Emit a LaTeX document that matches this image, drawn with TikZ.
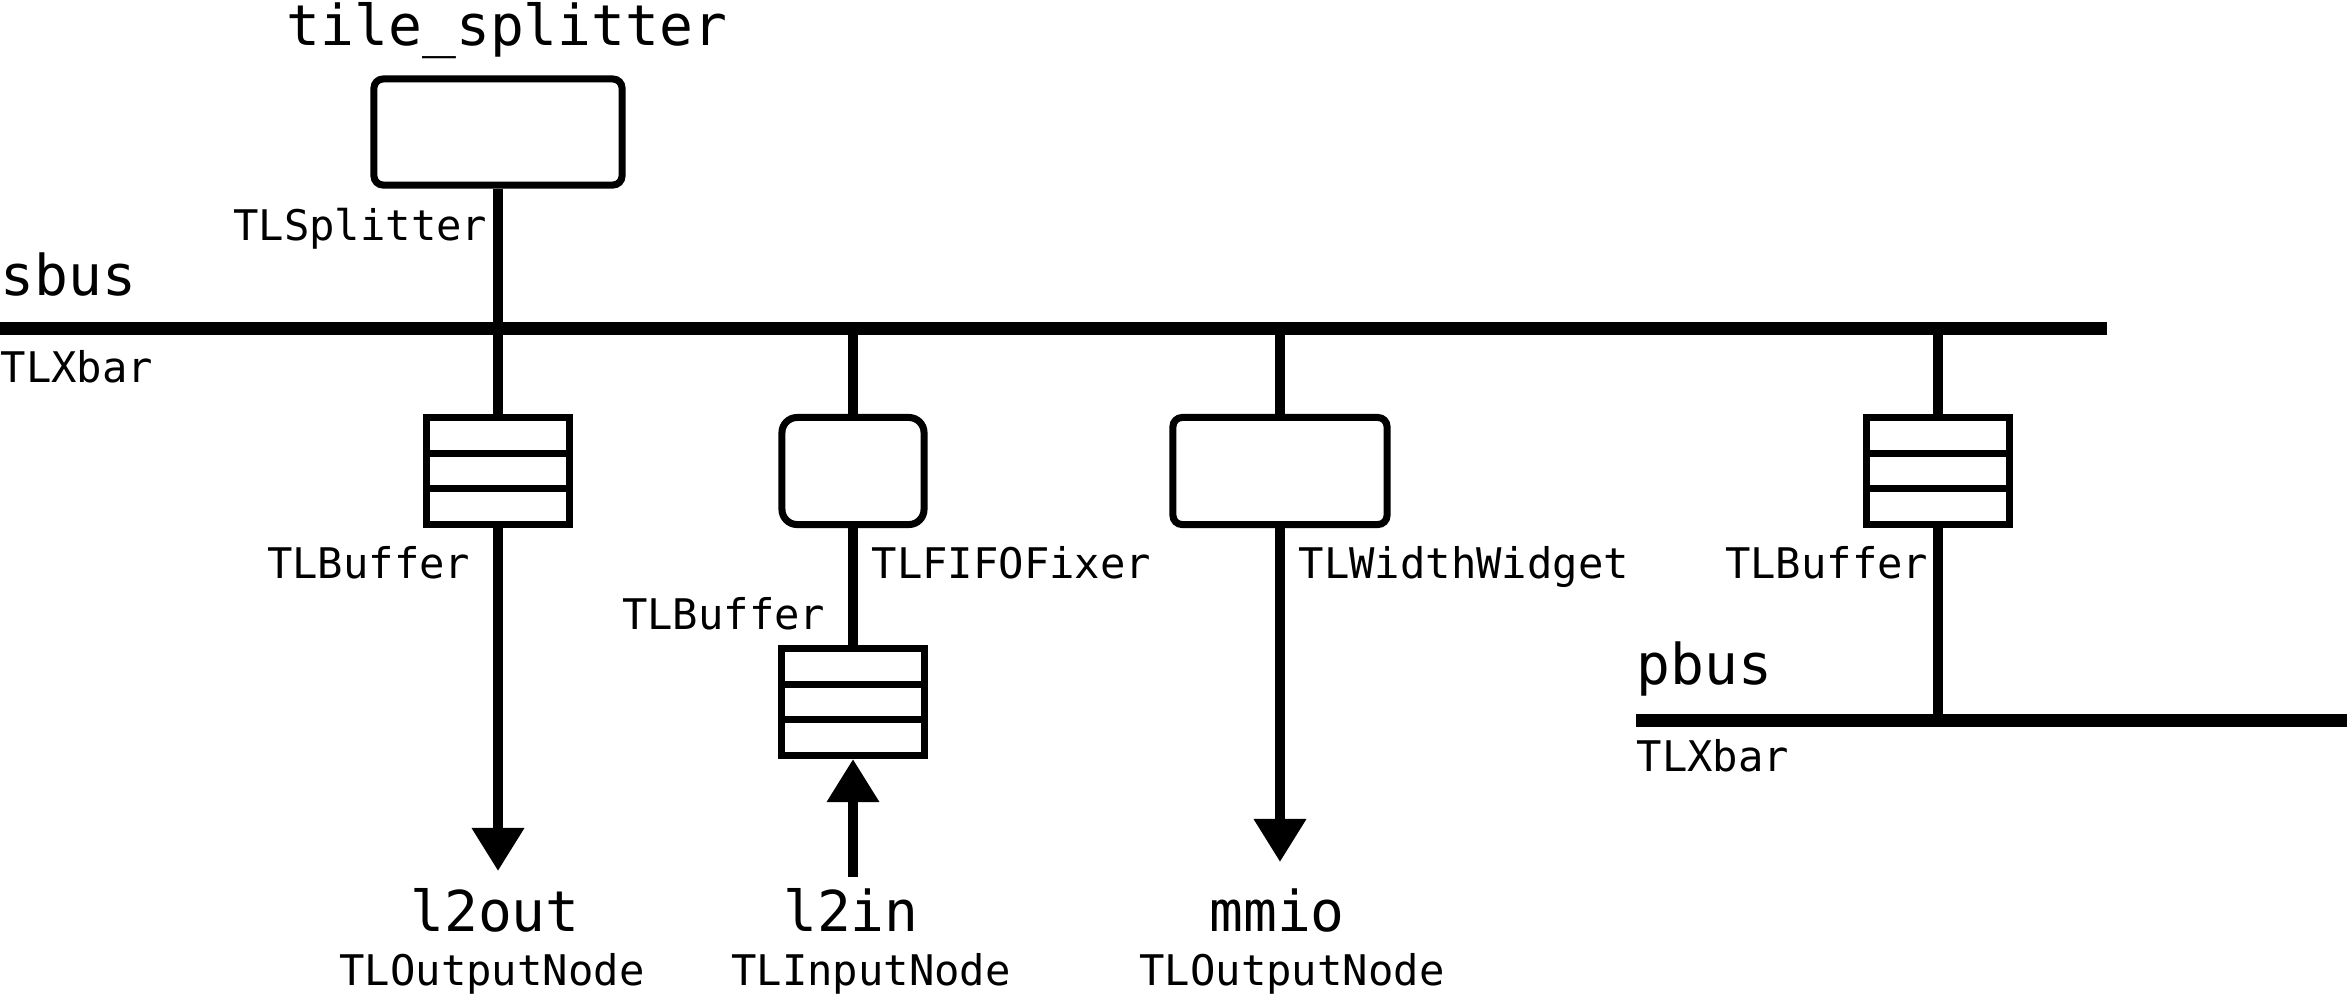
\documentclass[tikz,border=0pt]{standalone}
\usepackage{fontspec}
\setmonofont{DejaVu Sans Mono}
\usepackage{tikz}
\usetikzlibrary{arrows.meta,calc}

\tikzset{
  bus/.style={line width=3.7pt},
  link/.style={line width=2.85pt},
  widget/.style={draw,line width=2pt,rounded corners=2.6pt,minimum height=1.07cm,inner sep=0pt},
  fifo/.style={draw,line width=2pt,minimum width=1.42cm,minimum height=1.07cm,inner sep=0pt,
    path picture={
      \draw[line width=2pt]
        ($(path picture bounding box.north west)!1/3!(path picture bounding box.south west)$) --
        ($(path picture bounding box.north east)!1/3!(path picture bounding box.south east)$)
        ($(path picture bounding box.north west)!2/3!(path picture bounding box.south west)$) --
        ($(path picture bounding box.north east)!2/3!(path picture bounding box.south east)$);
    }},
  big/.style={font=\ttfamily\fontsize{16}{18}\selectfont,inner sep=0pt},
  small/.style={font=\ttfamily\fontsize{12}{14}\selectfont,inner sep=0pt},
  tip/.style={-{Triangle[width=5mm,length=4.3mm]}}
}

\begin{document}
\begin{tikzpicture}[x=0.01cm,y=-0.01cm]
\useasboundingbox (0,0) rectangle (2347,996);
% buses
\coordinate (sbus) at (0,328);
\coordinate (sbusend) at (2107,328);
\coordinate (pbus) at (1636,720);
\coordinate (pbusend) at (2347,720);
\draw[bus] (sbus) -- (sbusend);
\draw[bus] (pbus) -- (pbusend);
\node[big,anchor=base west] (sbuslbl) at (0,295) {sbus};
\node[small,anchor=base west] (sbusxbar) at (0,382) {TLXbar};
\node[big,anchor=base west] (pbuslbl) at (1636,684) {pbus};
\node[small,anchor=base west] (pbusxbar) at (1636,771) {TLXbar};
% widgets
\node[widget,minimum width=2.48cm,minimum height=1.06cm] (splitter) at (498,132) {};
\node[fifo] (buf1) at (498,471) {};
\node[widget,rounded corners=4.3pt,minimum width=1.42cm] (fixer) at (853,471) {};
\node[fifo] (buf2) at (853,702) {};
\node[widget,minimum width=2.14cm] (widget) at (1280,471) {};
\node[fifo] (buf3) at (1938,471) {};
% taps
\draw[link] (splitter) -- (buf1);
\draw[link] (fixer.north |- sbus) -- (fixer.north);
\draw[link] (fixer) -- (buf2);
\draw[link] (widget.north |- sbus) -- (widget.north);
\draw[link] (buf3.north |- sbus) -- (buf3.north);
\draw[link] (buf3.south) -- (buf3.south |- pbus);
% ports
\coordinate (l2outtip) at (498,871);
\coordinate (l2infoot) at (853,877);
\coordinate (mmiotip) at (1280,862);
\draw[link,tip] (buf1.south) -- (l2outtip);
\draw[link,tip] (l2infoot) -- (buf2.south);
\draw[link,tip] (widget.south) -- (mmiotip);
% labels
\node[big,anchor=base] (splitterlbl) at (507,45) {tile\_splitter};
\node[small,anchor=base east] (splittertype) at (488,240) {TLSplitter};
\node[small,anchor=base east] (buf1lbl) at (471,578) {TLBuffer};
\node[small,anchor=base west] (fixerlbl) at (871,578) {TLFIFOFixer};
\node[small,anchor=base east] (buf2lbl) at (826,629) {TLBuffer};
\node[small,anchor=base west] (widgetlbl) at (1298,578) {TLWidthWidget};
\node[small,anchor=base east] (buf3lbl) at (1929,578) {TLBuffer};
\node[big,anchor=base] (l2out) at (495,931) {l2out};
\node[small,anchor=base] (l2outtype) at (492,985) {TLOutputNode};
\node[big,anchor=base] (l2in) at (851,931) {l2in};
\node[small,anchor=base] (l2intype) at (871,985) {TLInputNode};
\node[big,anchor=base] (mmio) at (1277,931) {mmio};
\node[small,anchor=base] (mmiotype) at (1292,985) {TLOutputNode};
\end{tikzpicture}
\end{document}
